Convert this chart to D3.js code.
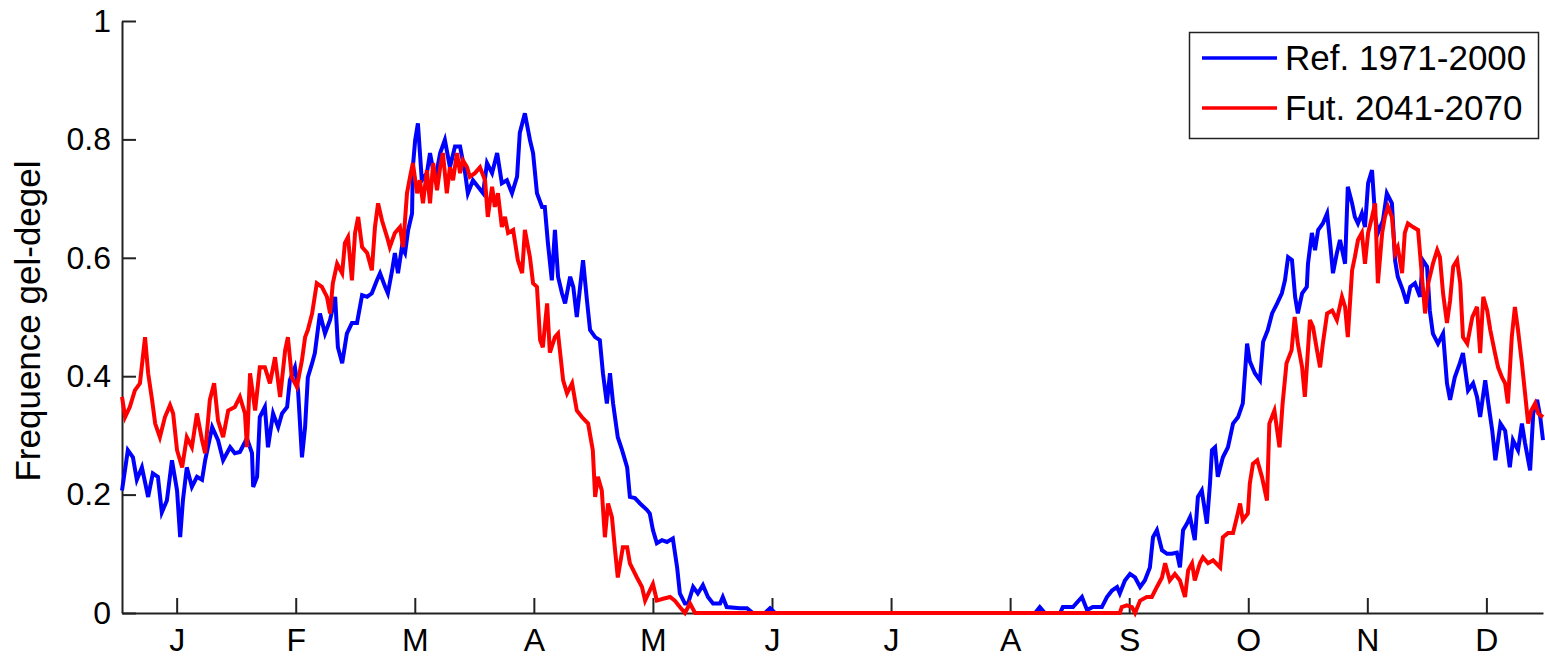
<!DOCTYPE html>
<html>
<head>
<meta charset="utf-8">
<script src="https://cdn.jsdelivr.net/npm/d3@7"></script>
<style>
  body { margin: 0; background: #fff; }
  svg { display: block; }
</style>
</head>
<body>
<script>
// month labels, ticks placed near the middle of each month
let monthLabels = ["J", "F", "M", "A", "M", "J", "J", "A", "S", "O", "N", "D"];
let monthTickDays = [15, 45.5, 76, 106.5, 137, 167.5, 198, 228.5, 259, 289.5, 320, 350.5];
let yTickValues = [0, 0.2, 0.4, 0.6, 0.8, 1];

let seriesNames = ["Ref. 1971-2000", "Fut. 2041-2070"];

// Ref. 1971-2000 (blue), day of year / frequency
let refDays = [1, 2.5, 3.8, 4.8, 6.1, 7.7, 8.9, 10.2, 11.2, 12.5, 13.8, 15.1, 15.9, 16.6, 17.6, 18.9, 20.2, 21.5, 22.3, 24.1,
    25.6, 26.9, 28.7, 29.9, 31.2, 33, 34.3, 34.6, 35.6, 36.3, 37.6, 38.4, 39.7, 41, 42, 43.3, 44, 45.3, 46.1, 47.1,
    47.9, 48.6, 49.7, 50.4, 51.7, 53, 54.3, 55.6, 56.3, 57.4, 58.6, 59.9, 61.2, 62.5, 63.8, 65, 66.3, 67.1, 68.4, 69.1,
    70.2, 70.9, 71.7, 72.7, 73.5, 74.3, 75.3, 75.5, 76.1, 76.8, 77.8, 79.1, 79.9, 81.2, 82.5, 83.7, 85, 86.3, 87.6, 88.9,
    89.6, 90.9, 92.2, 93.5, 94.5, 95.8, 97.1, 98.3, 99.6, 100.9, 102.2, 102.9, 104.2, 105.5, 106.3, 107.3, 108.6, 109.3, 110.1, 111.1,
    111.9, 112.7, 113.7, 114.5, 115.8, 116.6, 117.5, 119.1, 120.1, 120.9, 122.2, 123.4, 124.2, 125.2, 126, 126.8, 128, 129.1, 130.4, 131.1,
    132.4, 133.7, 135.5, 136.2, 137, 138, 139.3, 140.6, 142.1, 143.2, 143.9, 145.2, 146, 147.3, 148.5, 149.8, 151.1, 152.4, 154.2, 154.9,
    155.9, 159.3, 161.1, 162.6, 165.7, 167, 168.3, 234.9, 236.1, 237.4, 241.3, 242, 244.6, 246.9, 248.2, 249.7, 252, 253.3, 254.6, 255.9,
    256.6, 257.9, 259.2, 260.5, 261.8, 263, 264.3, 265.1, 266.1, 267.4, 268.7, 269.9, 271.2, 272, 272.8, 273.8, 274.6, 275.8, 276.6, 277.6,
    278.9, 279.7, 280.2, 281, 281.7, 283, 284.3, 285.6, 286.9, 288.1, 289.2, 289.9, 291.2, 292.5, 293.3, 294.5, 295.6, 296.9, 298.1, 298.9,
    299.7, 300.7, 301.5, 302.2, 303.3, 304.5, 304.8, 305.8, 306.6, 307.4, 308.6, 309.7, 310.4, 311.2, 312.2, 313, 314.3, 315, 316.1, 316.8,
    317.6, 318.6, 319.4, 320.2, 321.2, 322, 322.7, 324, 325, 326.3, 327.1, 327.8, 329.1, 330.1, 331, 332.2, 333.5, 334.2, 335.3, 336,
    336.8, 338.1, 339.4, 340.4, 341.2, 342.4, 343.7, 344.5, 345.8, 347.1, 348.1, 348.9, 350.2, 351, 352, 352.8, 354.1, 355.3, 356.5, 357.3,
    358.6, 359.6, 360.4, 361.7, 362.5, 363.5, 364.3, 365];
let refValues = [0.207, 0.275, 0.263, 0.225, 0.246, 0.196, 0.236, 0.23, 0.17, 0.19, 0.258, 0.207, 0.128, 0.19, 0.246, 0.213, 0.23, 0.225, 0.258, 0.314,
    0.292, 0.258, 0.28, 0.27, 0.272, 0.295, 0.27, 0.213, 0.23, 0.331, 0.348, 0.28, 0.337, 0.314, 0.337, 0.348, 0.393, 0.415, 0.376, 0.263,
    0.314, 0.398, 0.422, 0.439, 0.506, 0.472, 0.495, 0.534, 0.449, 0.422, 0.472, 0.49, 0.49, 0.537, 0.534, 0.54, 0.562, 0.574, 0.551, 0.54,
    0.579, 0.608, 0.574, 0.618, 0.608, 0.647, 0.675, 0.753, 0.799, 0.827, 0.731, 0.743, 0.777, 0.731, 0.777, 0.799, 0.753, 0.788, 0.788, 0.743,
    0.709, 0.731, 0.72, 0.709, 0.76, 0.743, 0.777, 0.726, 0.731, 0.709, 0.737, 0.811, 0.844, 0.799, 0.777, 0.709, 0.686, 0.686, 0.625, 0.562,
    0.647, 0.568, 0.54, 0.523, 0.568, 0.551, 0.5, 0.596, 0.528, 0.478, 0.466, 0.461, 0.405, 0.354, 0.405, 0.354, 0.297, 0.275, 0.246, 0.196,
    0.194, 0.185, 0.174, 0.168, 0.14, 0.118, 0.123, 0.12, 0.126, 0.077, 0.033, 0.016, 0.016, 0.044, 0.033, 0.047, 0.027, 0.016, 0.016, 0.027,
    0.01, 0.008, 0.008, 0, 0, 0.008, 0, 0, 0.01, 0, 0, 0.01, 0.01, 0.027, 0.005, 0.01, 0.01, 0.027, 0.038, 0.044,
    0.033, 0.055, 0.066, 0.06, 0.044, 0.055, 0.077, 0.128, 0.14, 0.106, 0.1, 0.1, 0.102, 0.077, 0.14, 0.151, 0.162, 0.123, 0.196, 0.207,
    0.151, 0.219, 0.275, 0.28, 0.23, 0.263, 0.28, 0.32, 0.331, 0.354, 0.455, 0.425, 0.405, 0.393, 0.458, 0.478, 0.506, 0.523, 0.54, 0.562,
    0.601, 0.596, 0.534, 0.506, 0.54, 0.551, 0.59, 0.642, 0.613, 0.647, 0.658, 0.675, 0.63, 0.574, 0.608, 0.63, 0.59, 0.72, 0.692, 0.669,
    0.658, 0.675, 0.652, 0.726, 0.748, 0.669, 0.642, 0.663, 0.709, 0.692, 0.596, 0.568, 0.545, 0.523, 0.551, 0.557, 0.534, 0.596, 0.585, 0.511,
    0.472, 0.455, 0.472, 0.388, 0.36, 0.398, 0.422, 0.439, 0.376, 0.388, 0.365, 0.331, 0.393, 0.354, 0.308, 0.258, 0.32, 0.308, 0.246, 0.292,
    0.275, 0.32, 0.287, 0.241, 0.337, 0.36, 0.331, 0.292];

// Fut. 2041-2070 (red), day of year / frequency
let futDays = [1, 1.8, 3, 4.3, 5.6, 6.9, 7.7, 8.7, 9.5, 10.7, 12, 13.3, 14.1, 15.1, 16.4, 17.6, 18.9, 20.2, 21.5, 22.3,
    23.5, 24.6, 25.6, 26.9, 28.2, 29.9, 31.2, 32.5, 33, 33.8, 35.1, 36.3, 37.6, 38.9, 40.2, 41.5, 42.8, 43.5, 44.5, 45.8,
    47.1, 47.9, 48.6, 49.7, 50.9, 52.2, 53.5, 54.3, 55, 56.1, 57.4, 58.1, 58.9, 59.9, 60.7, 61.5, 62.5, 63.8, 65, 65.8,
    66.6, 67.6, 68.9, 69.6, 70.9, 72.2, 73, 74, 74.8, 75.5, 76.6, 77.3, 78.1, 79.1, 79.9, 80.7, 81.7, 82.5, 83.2, 84.2,
    85, 85.8, 86.8, 87.6, 88.3, 89.4, 90.1, 91.4, 92.7, 94, 94.7, 95.8, 96.5, 97.3, 98.3, 99.1, 99.9, 101.2, 102.4, 103.5,
    104.2, 105.5, 106.3, 107.3, 108.1, 108.8, 109.9, 110.6, 111.9, 112.7, 114, 115, 116.3, 117.5, 118.8, 120.4, 121.6, 122.2, 122.9, 123.9,
    124.7, 125.5, 126.5, 127.3, 128, 129.3, 130.4, 131.1, 132.9, 134.2, 135, 136.2, 137, 138, 139.6, 141.4, 142.6, 143.9, 145.2, 146.5,
    147.8, 256.6, 257.1, 258.4, 259.7, 260.5, 261.8, 263.5, 264.8, 266.1, 267.4, 268.2, 269.4, 270.7, 272, 273.3, 274.1, 275.1, 275.8, 277.1,
    277.9, 279.2, 280.5, 282.3, 283, 284.3, 285.6, 286.6, 287.4, 288.1, 289.4, 289.9, 290.7, 291.8, 293, 294.3, 294.9, 296.2, 297.5, 298.3,
    299.3, 300.6, 301.4, 302.2, 303.3, 304, 305.3, 306.1, 307.1, 307.9, 308.6, 309.7, 311, 312.2, 313.5, 314.3, 315, 316.1, 316.8, 317.6,
    318.6, 319.4, 320.2, 321.2, 322, 322.7, 323.8, 324.5, 325.3, 326.3, 327.1, 327.8, 328.9, 329.6, 330.4, 331.7, 333, 334, 334.8, 335.6,
    336.8, 337.9, 338.6, 339.4, 340.4, 341.2, 342, 343, 343.8, 344.5, 345.6, 346.9, 348.1, 348.9, 349.7, 350.7, 351.5, 352.7, 353.5, 354.5,
    355.3, 356, 357, 357.8, 358.6, 359.6, 360.4, 361.2, 362, 363, 363.8, 365];
let futValues = [0.365, 0.331, 0.348, 0.376, 0.388, 0.466, 0.405, 0.36, 0.32, 0.297, 0.331, 0.351, 0.337, 0.275, 0.246, 0.297, 0.28, 0.337, 0.292, 0.27,
    0.36, 0.388, 0.325, 0.297, 0.342, 0.348, 0.365, 0.337, 0.28, 0.405, 0.342, 0.415, 0.415, 0.388, 0.432, 0.365, 0.444, 0.466, 0.398, 0.382,
    0.427, 0.466, 0.478, 0.506, 0.557, 0.551, 0.534, 0.506, 0.557, 0.59, 0.574, 0.625, 0.635, 0.562, 0.642, 0.669, 0.618, 0.608, 0.579, 0.652,
    0.692, 0.663, 0.635, 0.618, 0.642, 0.652, 0.618, 0.709, 0.737, 0.76, 0.709, 0.731, 0.692, 0.748, 0.692, 0.76, 0.714, 0.753, 0.777, 0.709,
    0.753, 0.731, 0.777, 0.743, 0.765, 0.753, 0.737, 0.743, 0.753, 0.731, 0.669, 0.72, 0.686, 0.709, 0.652, 0.669, 0.642, 0.647, 0.596, 0.574,
    0.647, 0.601, 0.557, 0.551, 0.461, 0.449, 0.523, 0.44, 0.466, 0.472, 0.393, 0.371, 0.388, 0.342, 0.331, 0.32, 0.275, 0.196, 0.23, 0.207,
    0.128, 0.185, 0.162, 0.106, 0.06, 0.111, 0.111, 0.084, 0.06, 0.044, 0.021, 0.038, 0.049, 0.021, 0.024, 0.027, 0.021, 0.01, 0, 0.016,
    0, 0, 0.01, 0.013, 0.01, 0, 0.021, 0.027, 0.027, 0.044, 0.06, 0.084, 0.055, 0.066, 0.055, 0.027, 0.072, 0.084, 0.055, 0.084,
    0.094, 0.084, 0.089, 0.077, 0.128, 0.135, 0.135, 0.162, 0.185, 0.157, 0.168, 0.219, 0.252, 0.258, 0.23, 0.19, 0.32, 0.342, 0.28, 0.354,
    0.422, 0.444, 0.5, 0.455, 0.415, 0.365, 0.495, 0.483, 0.444, 0.415, 0.455, 0.506, 0.511, 0.495, 0.534, 0.517, 0.466, 0.579, 0.601, 0.63,
    0.642, 0.59, 0.642, 0.669, 0.692, 0.557, 0.642, 0.669, 0.686, 0.669, 0.608, 0.618, 0.574, 0.642, 0.658, 0.652, 0.647, 0.568, 0.506, 0.557,
    0.59, 0.613, 0.601, 0.54, 0.49, 0.528, 0.585, 0.596, 0.557, 0.466, 0.455, 0.5, 0.517, 0.439, 0.534, 0.511, 0.478, 0.439, 0.415, 0.398,
    0.388, 0.354, 0.466, 0.517, 0.478, 0.422, 0.371, 0.32, 0.342, 0.354, 0.337, 0.331];

let width = 1545, height = 658;
let font = "'Liberation Sans', Arial, Helvetica, sans-serif";

let x = d3.scaleLinear().domain([1, 365]).range([122, 1543]);
let y = d3.scaleLinear().domain([0, 1]).range([613, 21]);

let svg = d3.select("body")
    .append("svg")
    .attr("width", width)
    .attr("height", height)
    .attr("font-family", font);

// y axis, ticks pointing inside
let yAxis = svg.append("g")
    .attr("transform", `translate(${x(1)},0)`)
    .call(d3.axisLeft(y)
        .tickValues(yTickValues)
        .tickFormat(d3.format("~g"))
        .tickSizeInner(-14)
        .tickSizeOuter(0)
        .tickPadding(11));

// x axis, month letters
let xAxis = svg.append("g")
    .attr("transform", `translate(0,${y(0)})`)
    .call(d3.axisBottom(x)
        .tickValues(monthTickDays)
        .tickFormat((d, i) => monthLabels[i])
        .tickSizeInner(-15)
        .tickSizeOuter(0)
        .tickPadding(15));

[yAxis, xAxis].forEach(ax => {
    ax.attr("font-family", font).attr("font-size", 32);
    ax.select(".domain").attr("stroke", "#222").attr("stroke-width", 2);
    ax.selectAll(".tick line").attr("stroke", "#222").attr("stroke-width", 2);
    ax.selectAll(".tick text").attr("fill", "#000");
});

// series drawn over the axes, blue first so red sits on top along the zero line
let series = [
    { name: seriesNames[0], color: "#0000ff", days: refDays, values: refValues },
    { name: seriesNames[1], color: "#ff0000", days: futDays, values: futValues }
];

let line = d3.line()
    .x(d => x(d[0]))
    .y(d => y(d[1]));

svg.append("g")
    .selectAll("path")
    .data(series)
    .join("path")
    .attr("fill", "none")
    .attr("stroke", d => d.color)
    .attr("stroke-width", 4)
    .attr("stroke-linejoin", "miter")
    .attr("d", d => line(d.days.map((day, i) => [day, d.values[i]])));

// y label
svg.append("text")
    .attr("transform", "translate(40,321) rotate(-90)")
    .attr("text-anchor", "middle")
    .attr("font-size", 35)
    .text("Frequence gel-degel");

// legend
let legend = svg.append("g");
legend.append("rect")
    .attr("x", 1189.5)
    .attr("y", 32.5)
    .attr("width", 349)
    .attr("height", 106)
    .attr("fill", "#fff")
    .attr("stroke", "#222")
    .attr("stroke-width", 1.5);

let item = legend.selectAll("g")
    .data(series)
    .join("g")
    .attr("transform", (d, i) => `translate(0,${58 + i * 50})`);

item.append("line")
    .attr("x1", 1202)
    .attr("x2", 1277)
    .attr("stroke", d => d.color)
    .attr("stroke-width", 3.5);

item.append("text")
    .attr("x", 1285)
    .attr("dy", "0.35em")
    .attr("font-size", 35)
    .text(d => d.name);
</script>
</body>
</html>
